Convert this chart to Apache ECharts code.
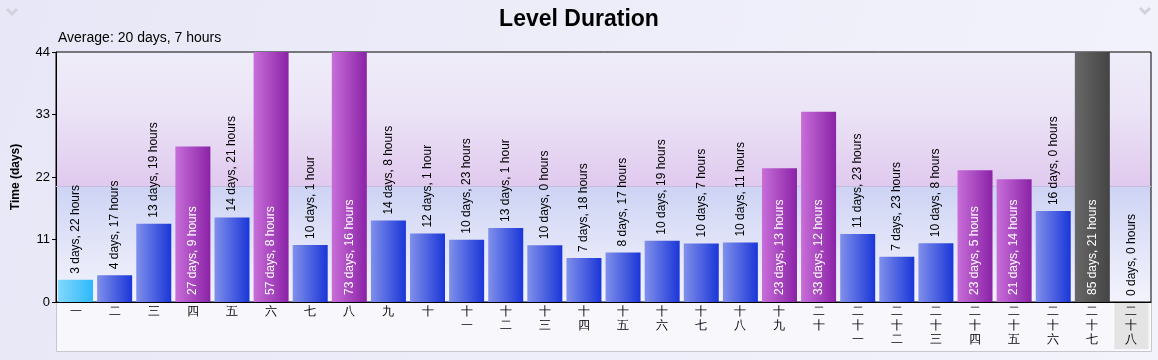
<!DOCTYPE html>
<html>
<head>
<meta charset="utf-8">
<script src="https://cdn.jsdelivr.net/npm/echarts@6/dist/echarts.min.js"></script>
<style>
html,body{margin:0;padding:0;background:#eeedf9;}
#c{width:1158px;height:360px;}
</style>
</head>
<body>
<div id="c"></div>
<script>
// ---- data ----
const categories = ['一','二','三','四','五','六','七','八','九','十','十一','十二','十三','十四','十五','十六','十七','十八','十九','二十','二十一','二十二','二十三','二十四','二十五','二十六','二十七','二十八'];
const durationDays  = [3, 4, 13, 27, 14, 57, 10, 73, 14, 12, 10, 13, 10, 7, 8, 10, 10, 10, 23, 33, 11, 7, 10, 23, 21, 16, 85, 0];
const durationHours = [22, 17, 19, 9, 21, 8, 1, 16, 8, 1, 23, 1, 0, 18, 17, 19, 7, 11, 13, 12, 23, 23, 8, 5, 14, 0, 21, 0];
const averageDays = 20;
const averageHours = 7;
const yTicks = [0, 11, 22, 33, 44];
const cyanIndex = 0;      // first level (highlighted cyan)
const grayIndex = 26;     // longest level (dark)
const selectedIndex = 27; // selected category label

// ---- derived ----
const values = durationDays.map((d, i) => d + durationHours[i] / 24);
const avg = averageDays + averageHours / 24;
const yMax = yTicks[yTicks.length - 1];
const avgStop = (yMax - avg) / yMax;

function grad(l, r) {
  return new echarts.graphic.LinearGradient(0, 0, 1, 0, [{offset: 0, color: l}, {offset: 1, color: r}]);
}
const cBlue = grad('#8090ea', '#1a36d8');
const cPurple = grad('#c86ed9', '#8a22a6');
const cCyan = grad('#82d8fc', '#2eb8fc');
const cGray = grad('#686868', '#444444');

function labelText(i) {
  const h = durationHours[i];
  return durationDays[i] + ' days, ' + h + (h === 1 ? ' hour' : ' hours');
}

const barData = values.map((v, i) => {
  let color = v > avg ? cPurple : cBlue;
  if (i === cyanIndex) color = cCyan;
  if (i === grayIndex) color = cGray;
  const inside = v > avg;
  return {
    value: v,
    itemStyle: {color: color},
    label: inside ? {
      position: 'insideBottom', distance: 7, color: '#ffffff'
    } : {
      position: 'top', distance: 6, color: '#000000'
    }
  };
});

const xData = categories.map((c, i) => {
  if (i === selectedIndex) {
    return {value: c, textStyle: {backgroundColor: '#e4e4e4'}};
  }
  return c;
});

const chart = echarts.init(document.getElementById('c'), null, {renderer: 'canvas'});
const FONT = '"Liberation Sans", Arial, sans-serif';

chart.setOption({
  animation: false,
  backgroundColor: new echarts.graphic.LinearGradient(0, 0, 1, 1, [
    {offset: 0, color: '#e8e7f7'}, {offset: 1, color: '#f3f3fc'}
  ]),
  textStyle: {fontFamily: FONT},
  title: {
    text: 'Level Duration',
    left: 'center',
    top: 3,
    textStyle: {fontSize: 23, fontWeight: 'bold', color: '#000', fontFamily: FONT}
  },
  graphic: [
    {type: 'rect', left: 56, top: 302, z: -1,
      shape: {width: 1095, height: 49},
      style: {fill: '#f7f7fc', stroke: '#c8c8cc', lineWidth: 1}},
    {type: 'text', left: 58, top: 31,
      style: {text: 'Average: ' + averageDays + ' days, ' + averageHours + ' hours', fill: '#000', font: '14px ' + FONT}},
    {type: 'polyline', shape: {points: [[7, 9], [12, 14], [17, 9]]},
      style: {stroke: '#d2d2de', lineWidth: 3, fill: null}},
    {type: 'polyline', shape: {points: [[1140, 8], [1145, 13], [1150, 8]]},
      style: {stroke: '#d2d2de', lineWidth: 3, fill: null}}
  ],
  grid: {
    left: 56, right: 7, top: 52, bottom: 58,
    show: true,
    borderColor: '#000',
    borderWidth: 1,
    backgroundColor: new echarts.graphic.LinearGradient(0, 0, 0, 1, [
      {offset: 0, color: '#efedf9'},
      {offset: avgStop * 0.45, color: '#ebe3f6'},
      {offset: avgStop, color: '#e0c9ee'},
      {offset: avgStop, color: '#cdd3f4'},
      {offset: avgStop + (1 - avgStop) * 0.6, color: '#e6e8f9'},
      {offset: 1, color: '#f3f3fd'}
    ])
  },
  xAxis: {
    type: 'category',
    data: xData,
    axisLine: {lineStyle: {color: '#000', width: 1}},
    axisTick: {show: false},
    axisLabel: {
      interval: 0,
      color: '#000',
      fontSize: 12,
      lineHeight: 14,
      margin: 1,
      padding: [2, 11, 2, 11],
      formatter: v => v.split('').join('\n')
    }
  },
  yAxis: {
    type: 'value',
    min: 0,
    max: yMax,
    interval: 11,
    name: 'Time (days)',
    nameLocation: 'middle',
    nameGap: 34,
    nameTextStyle: {fontWeight: 'bold', fontSize: 12, color: '#000', fontFamily: FONT},
    axisLine: {show: true, lineStyle: {color: '#000'}},
    axisTick: {show: true, length: 4, lineStyle: {color: '#000'}},
    axisLabel: {color: '#000', fontSize: 13, margin: 6},
    splitLine: {show: false}
  },
  series: [{
    type: 'bar',
    data: barData,
    barCategoryGap: '10.5%',
    z: 3,
    label: {
      show: true,
      rotate: 90,
      align: 'left',
      verticalAlign: 'middle',
      fontSize: 12,
      fontFamily: FONT,
      formatter: p => labelText(p.dataIndex)
    },
    markLine: {
      silent: true,
      symbol: 'none',
      label: {show: false},
      lineStyle: {color: '#c6bcdc', width: 1, type: 'solid'},
      data: [{yAxis: avg}],
      z: 1
    }
  }]
});
</script>
</body>
</html>
